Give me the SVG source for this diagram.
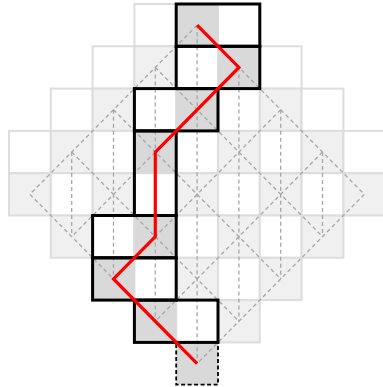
<svg xmlns="http://www.w3.org/2000/svg" width="383" height="387" viewBox="0 0 383 387">
<style>
.w{fill:#ffffff;stroke:#dddddd;stroke-width:2}
.l{fill:#f0f0f0;stroke:#dddddd;stroke-width:2}
.d{fill:#d9d9d9;stroke:none}
.dash{fill:none;stroke:#a6a6a6;stroke-width:1.3;stroke-dasharray:4 3}
.dom{fill:none;stroke:#000000;stroke-width:3}
.ddom{fill:none;stroke:#000000;stroke-width:1.8;stroke-dasharray:4 2.5}
.path{fill:none;stroke:#ff0000;stroke-width:3.2;stroke-linejoin:miter}
</style>
<rect width="383" height="387" fill="#ffffff"/>
<g id="board">
<rect class="w" x="134.4" y="4" width="41.8" height="42.3"/><rect class="l" x="176.2" y="4" width="41.8" height="42.3"/><rect class="w" x="218" y="4" width="41.8" height="42.3"/>
<rect class="w" x="92.6" y="46.3" width="41.8" height="42.3"/><rect class="l" x="134.4" y="46.3" width="41.8" height="42.3"/><rect class="w" x="176.2" y="46.3" width="41.8" height="42.3"/><rect class="l" x="218" y="46.3" width="41.8" height="42.3"/><rect class="w" x="259.8" y="46.3" width="41.8" height="42.3"/>
<rect class="w" x="50.8" y="88.6" width="41.8" height="42.3"/><rect class="l" x="92.6" y="88.6" width="41.8" height="42.3"/><rect class="w" x="134.4" y="88.6" width="41.8" height="42.3"/><rect class="l" x="176.2" y="88.6" width="41.8" height="42.3"/><rect class="w" x="218" y="88.6" width="41.8" height="42.3"/><rect class="l" x="259.8" y="88.6" width="41.8" height="42.3"/><rect class="w" x="301.6" y="88.6" width="41.8" height="42.3"/>
<rect class="w" x="9" y="130.9" width="41.8" height="42.3"/><rect class="l" x="50.8" y="130.9" width="41.8" height="42.3"/><rect class="w" x="92.6" y="130.9" width="41.8" height="42.3"/><rect class="l" x="134.4" y="130.9" width="41.8" height="42.3"/><rect class="w" x="176.2" y="130.9" width="41.8" height="42.3"/><rect class="l" x="218" y="130.9" width="41.8" height="42.3"/><rect class="w" x="259.8" y="130.9" width="41.8" height="42.3"/><rect class="l" x="301.6" y="130.9" width="41.8" height="42.3"/><rect class="w" x="343.4" y="130.9" width="41.8" height="42.3"/>
<rect class="l" x="9" y="173.2" width="41.8" height="42.3"/><rect class="w" x="50.8" y="173.2" width="41.8" height="42.3"/><rect class="l" x="92.6" y="173.2" width="41.8" height="42.3"/><rect class="w" x="134.4" y="173.2" width="41.8" height="42.3"/><rect class="l" x="176.2" y="173.2" width="41.8" height="42.3"/><rect class="w" x="218" y="173.2" width="41.8" height="42.3"/><rect class="l" x="259.8" y="173.2" width="41.8" height="42.3"/><rect class="w" x="301.6" y="173.2" width="41.8" height="42.3"/><rect class="l" x="343.4" y="173.2" width="41.8" height="42.3"/>
<rect class="l" x="50.8" y="215.5" width="41.8" height="42.3"/><rect class="w" x="92.6" y="215.5" width="41.8" height="42.3"/><rect class="l" x="134.4" y="215.5" width="41.8" height="42.3"/><rect class="w" x="176.2" y="215.5" width="41.8" height="42.3"/><rect class="l" x="218" y="215.5" width="41.8" height="42.3"/><rect class="w" x="259.8" y="215.5" width="41.8" height="42.3"/><rect class="l" x="301.6" y="215.5" width="41.8" height="42.3"/>
<rect class="l" x="92.6" y="257.8" width="41.8" height="42.3"/><rect class="w" x="134.4" y="257.8" width="41.8" height="42.3"/><rect class="l" x="176.2" y="257.8" width="41.8" height="42.3"/><rect class="w" x="218" y="257.8" width="41.8" height="42.3"/><rect class="l" x="259.8" y="257.8" width="41.8" height="42.3"/>
<rect class="l" x="134.4" y="300.1" width="41.8" height="42.3"/><rect class="w" x="176.2" y="300.1" width="41.8" height="42.3"/><rect class="l" x="218" y="300.1" width="41.8" height="42.3"/>
</g>
<g id="marked-cells">
<rect class="d" x="176.2" y="4" width="41.8" height="42.3"/>
<rect class="d" x="218" y="46.3" width="41.8" height="42.3"/>
<rect class="d" x="176.2" y="88.6" width="41.8" height="42.3"/>
<rect class="d" x="134.4" y="130.9" width="41.8" height="42.3"/>
<rect class="d" x="134.4" y="215.5" width="41.8" height="42.3"/>
<rect class="d" x="92.6" y="257.8" width="41.8" height="42.3"/>
<rect class="d" x="134.4" y="300.1" width="41.8" height="42.3"/>
<rect class="d" x="176.2" y="342.4" width="41.8" height="42.3"/>
</g>
<g id="connectors">
<g class="dash">
<line x1="197.1" y1="25.15" x2="364.3" y2="194.35"/>
<line x1="155.3" y1="67.45" x2="322.5" y2="236.65"/>
<line x1="113.5" y1="109.75" x2="280.7" y2="278.95"/>
<line x1="71.7" y1="152.05" x2="238.9" y2="321.25"/>
<line x1="29.9" y1="194.35" x2="197.1" y2="363.55"/>
<line x1="197.1" y1="25.15" x2="29.9" y2="194.35"/>
<line x1="238.9" y1="67.45" x2="71.7" y2="236.65"/>
<line x1="280.7" y1="109.75" x2="113.5" y2="278.95"/>
<line x1="322.5" y1="152.05" x2="155.3" y2="321.25"/>
<line x1="364.3" y1="194.35" x2="197.1" y2="363.55"/>
<line x1="71.7" y1="152.05" x2="71.7" y2="236.65"/>
<line x1="113.5" y1="109.75" x2="113.5" y2="278.95"/>
<line x1="155.3" y1="67.45" x2="155.3" y2="321.25"/>
<line x1="197.1" y1="25.15" x2="197.1" y2="363.55"/>
<line x1="238.9" y1="67.45" x2="238.9" y2="321.25"/>
<line x1="280.7" y1="109.75" x2="280.7" y2="278.95"/>
<line x1="322.5" y1="152.05" x2="322.5" y2="236.65"/>
</g>
</g>
<g id="domino-0"><rect class="dom" x="176.2" y="4" width="83.6" height="42.3"/></g>
<g id="domino-1"><rect class="dom" x="176.2" y="46.3" width="83.6" height="42.3"/></g>
<g id="domino-2"><rect class="dom" x="134.4" y="88.6" width="83.6" height="42.3"/></g>
<g id="domino-3"><rect class="dom" x="134.4" y="130.9" width="41.8" height="84.6"/></g>
<g id="domino-4"><rect class="dom" x="92.6" y="215.5" width="83.6" height="42.3"/></g>
<g id="domino-5"><rect class="dom" x="92.6" y="257.8" width="83.6" height="42.3"/></g>
<g id="domino-6"><rect class="dom" x="134.4" y="300.1" width="83.6" height="42.3"/></g>
<g id="extra-cell"><rect class="ddom" x="176.2" y="342.4" width="41.8" height="42.3"/></g>
<g id="red-path"><polyline class="path" points="197.1,25.15 238.9,67.45 155.3,152.05 155.3,236.65 113.5,278.95 197.1,363.55"/></g>
</svg>
